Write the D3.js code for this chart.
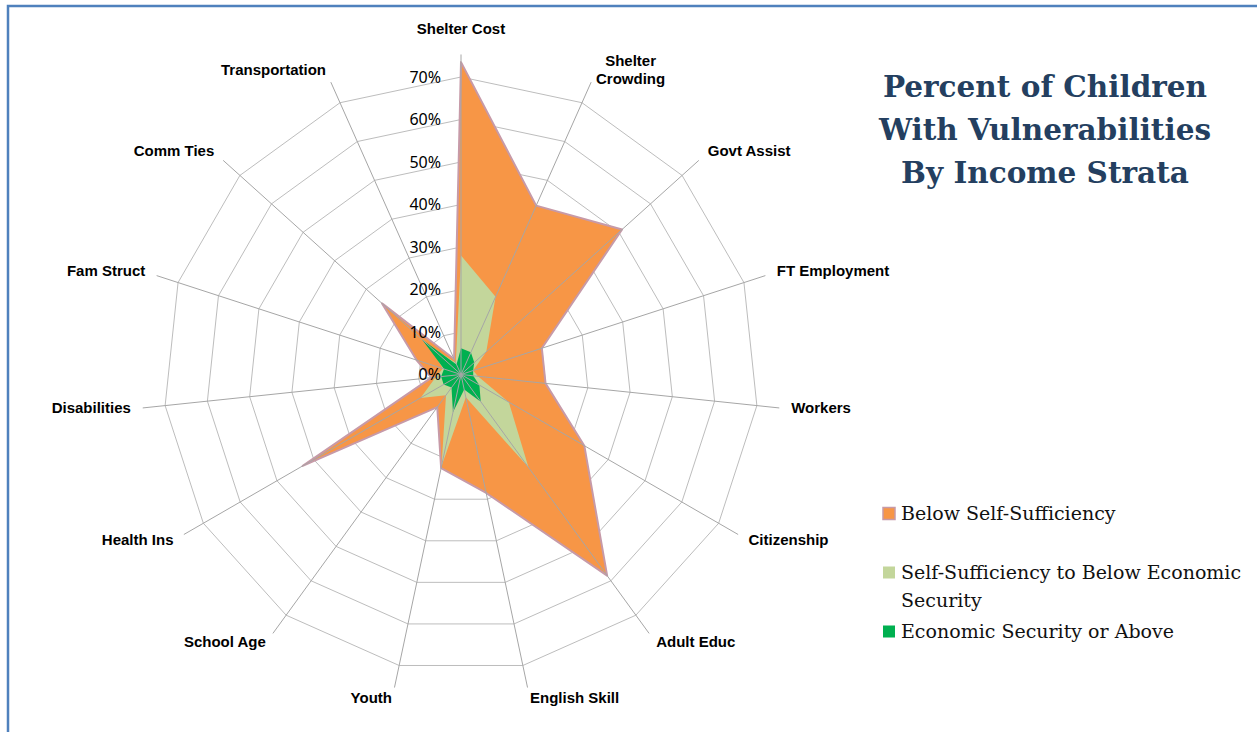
<!DOCTYPE html>
<html lang="en">
<head>
    <meta charset="UTF-8">
    <title>Percent of Children With Vulnerabilities</title>
    <script src="https://d3js.org/d3.v7.min.js"></script>
    <style>
        body { margin: 0; background: #fff; }
        svg { display: block; }
        .axis-label { font-family: "Liberation Sans", Arial, sans-serif; font-weight: bold; font-size: 15px; fill: #000; }
        .tick-label { font-family: "Noto Sans", "Open Sans", sans-serif; font-size: 16px; fill: #000; }
        .title { font-family: "DejaVu Serif", serif; font-weight: bold; font-size: 29.5px; fill: #243f60; }
        .legend { font-family: "DejaVu Serif", serif; font-size: 19px; fill: #111; }
    </style>
</head>
<body>
    <svg width="1257" height="732"></svg>
    <script>
        var categories = ["Shelter Cost", "Shelter\nCrowding", "Govt Assist", "FT Employment", "Workers",
            "Citizenship", "Adult Educ", "English Skill", "Youth", "School Age", "Health Ins",
            "Disabilities", "Fam Struct", "Comm Ties", "Transportation"];

        // percent of children
        var belowSelfSufficiency = [73.5, 43.5, 51, 20, 20, 33.5, 58.5, 28.5, 22.5, 9.5, 43, 7, 11, 25, 4];
        var selfSuffToEconSecurity = [28, 20, 8, 3, 4, 13, 27, 5.5, 22, 6, 11, 6, 4.5, 10, 3];
        var econSecurityOrAbove = [6.2, 5.7, 4.2, 3, 2.9, 5, 7.9, 3.6, 9.1, 3.8, 4.7, 4.7, 4.2, 12.4, 2.6];

        var ticks = [0, 10, 20, 30, 40, 50, 60, 70];
        var tickLabels = ["0%", "10%", "20%", "30%", "40%", "50%", "60%", "70%"];

        var seriesNames = ["Below Self-Sufficiency", "Self-Sufficiency to Below Economic\nSecurity", "Economic Security or Above"];
        var seriesColors = ["#f79646", "#c3d69b", "#00b050"];

        var titleLines = ["Percent of Children", "With Vulnerabilities", "By Income Strata"];

        var svg = d3.select("svg");
        var cx = 461, cy = 374.5;

        // frame
        svg.append("path")
            .attr("d", "M8,740 L8,6 L1265,6")
            .style("fill", "none")
            .style("stroke", "#4f81bd")
            .style("stroke-width", "2.5px");

        var n = categories.length;
        var angle = d3.scaleLinear().domain([0, n]).range([0, 2 * Math.PI]);
        var r = d3.scaleLinear().domain([0, 70]).range([0, 297.5]);
        var spokeEnd = 75.3;

        var g = svg.append("g").attr("transform", "translate(" + cx + "," + cy + ")");

        var ring = d3.lineRadial()
            .angle((d, i) => angle(i))
            .radius(d => r(d))
            .curve(d3.curveLinearClosed);

        // rings
        g.selectAll(".ring")
            .data(ticks.slice(1))
            .enter()
            .append("path")
            .attr("d", t => ring(categories.map(() => t)))
            .style("fill", "none")
            .style("stroke", "#bdbdbd")
            .style("stroke-width", "1px");

        // series
        var allSeries = [belowSelfSufficiency, selfSuffToEconSecurity, econSecurityOrAbove];
        g.selectAll(".series")
            .data(allSeries)
            .enter()
            .append("path")
            .attr("d", d => ring(d))
            .style("fill", (d, i) => seriesColors[i])
            .style("stroke", (d, i) => i === 0 ? "#c79aa8" : "none")
            .style("stroke-width", "2px")
            .style("stroke-linejoin", "round");

        // spokes (drawn over the areas)
        g.selectAll(".spoke")
            .data(categories)
            .enter()
            .append("line")
            .attr("x2", (d, i) => r(spokeEnd) * Math.sin(angle(i)))
            .attr("y2", (d, i) => -r(spokeEnd) * Math.cos(angle(i)))
            .style("stroke", "#a6a6a6")
            .style("stroke-width", "1px");

        // tick labels
        g.selectAll(".tick-label")
            .data(ticks)
            .enter()
            .append("text")
            .attr("class", "tick-label")
            .attr("x", -20)
            .attr("y", d => -r(d))
            .attr("dy", "0.36em")
            .attr("text-anchor", "end")
            .text((d, i) => tickLabels[i]);

        // category labels
        var labelR = 332;
        categories.forEach((c, i) => {
            var a = angle(i);
            var s = Math.sin(a), co = Math.cos(a);
            var px = labelR * s, py = -labelR * co;
            var lines = c.split("\n");
            var t = g.append("text").attr("class", "axis-label");
            lines.forEach((l, j) => {
                t.append("tspan").attr("x", 0).attr("dy", j === 0 ? 0 : "1.2em").text(l);
            });
            var widths = [];
            t.selectAll("tspan").each(function () { widths.push(this.getComputedTextLength()); });
            var w = d3.max(widths);
            var h = lines.length * 18;
            var left;
            if (Math.abs(s) < 0.05) left = px - w / 2;
            else if (s > 0) left = px;
            else left = px - w;
            var top = Math.abs(s) < 0.05 ? py - h - 4 : py - h / 2;
            t.selectAll("tspan")
                .attr("x", left + w / 2)
                .attr("text-anchor", "middle");
            t.select("tspan").attr("y", top + 13);
        });

        // title
        svg.selectAll(".title")
            .data(titleLines)
            .enter()
            .append("text")
            .attr("class", "title")
            .attr("x", 1045)
            .attr("y", (d, i) => 97 + i * 43)
            .attr("text-anchor", "middle")
            .text(d => d);

        // legend
        var legendY = [520, 579, 638];
        var leg = svg.selectAll(".leg")
            .data(seriesNames)
            .enter()
            .append("g");
        leg.append("rect")
            .attr("x", 883)
            .attr("y", (d, i) => legendY[i] - 12.5)
            .attr("width", 12)
            .attr("height", 12)
            .style("fill", (d, i) => seriesColors[i])
            .style("stroke", (d, i) => i === 0 ? "#c79aa8" : "none")
            .style("stroke-width", "1.5px");
        leg.append("text")
            .attr("class", "legend")
            .attr("y", (d, i) => legendY[i])
            .each(function (d) {
                var el = d3.select(this);
                d.split("\n").forEach((l, j) => {
                    el.append("tspan").attr("x", 901).attr("dy", j === 0 ? 0 : 27.5).text(l);
                });
            });
    </script>
</body>
</html>
